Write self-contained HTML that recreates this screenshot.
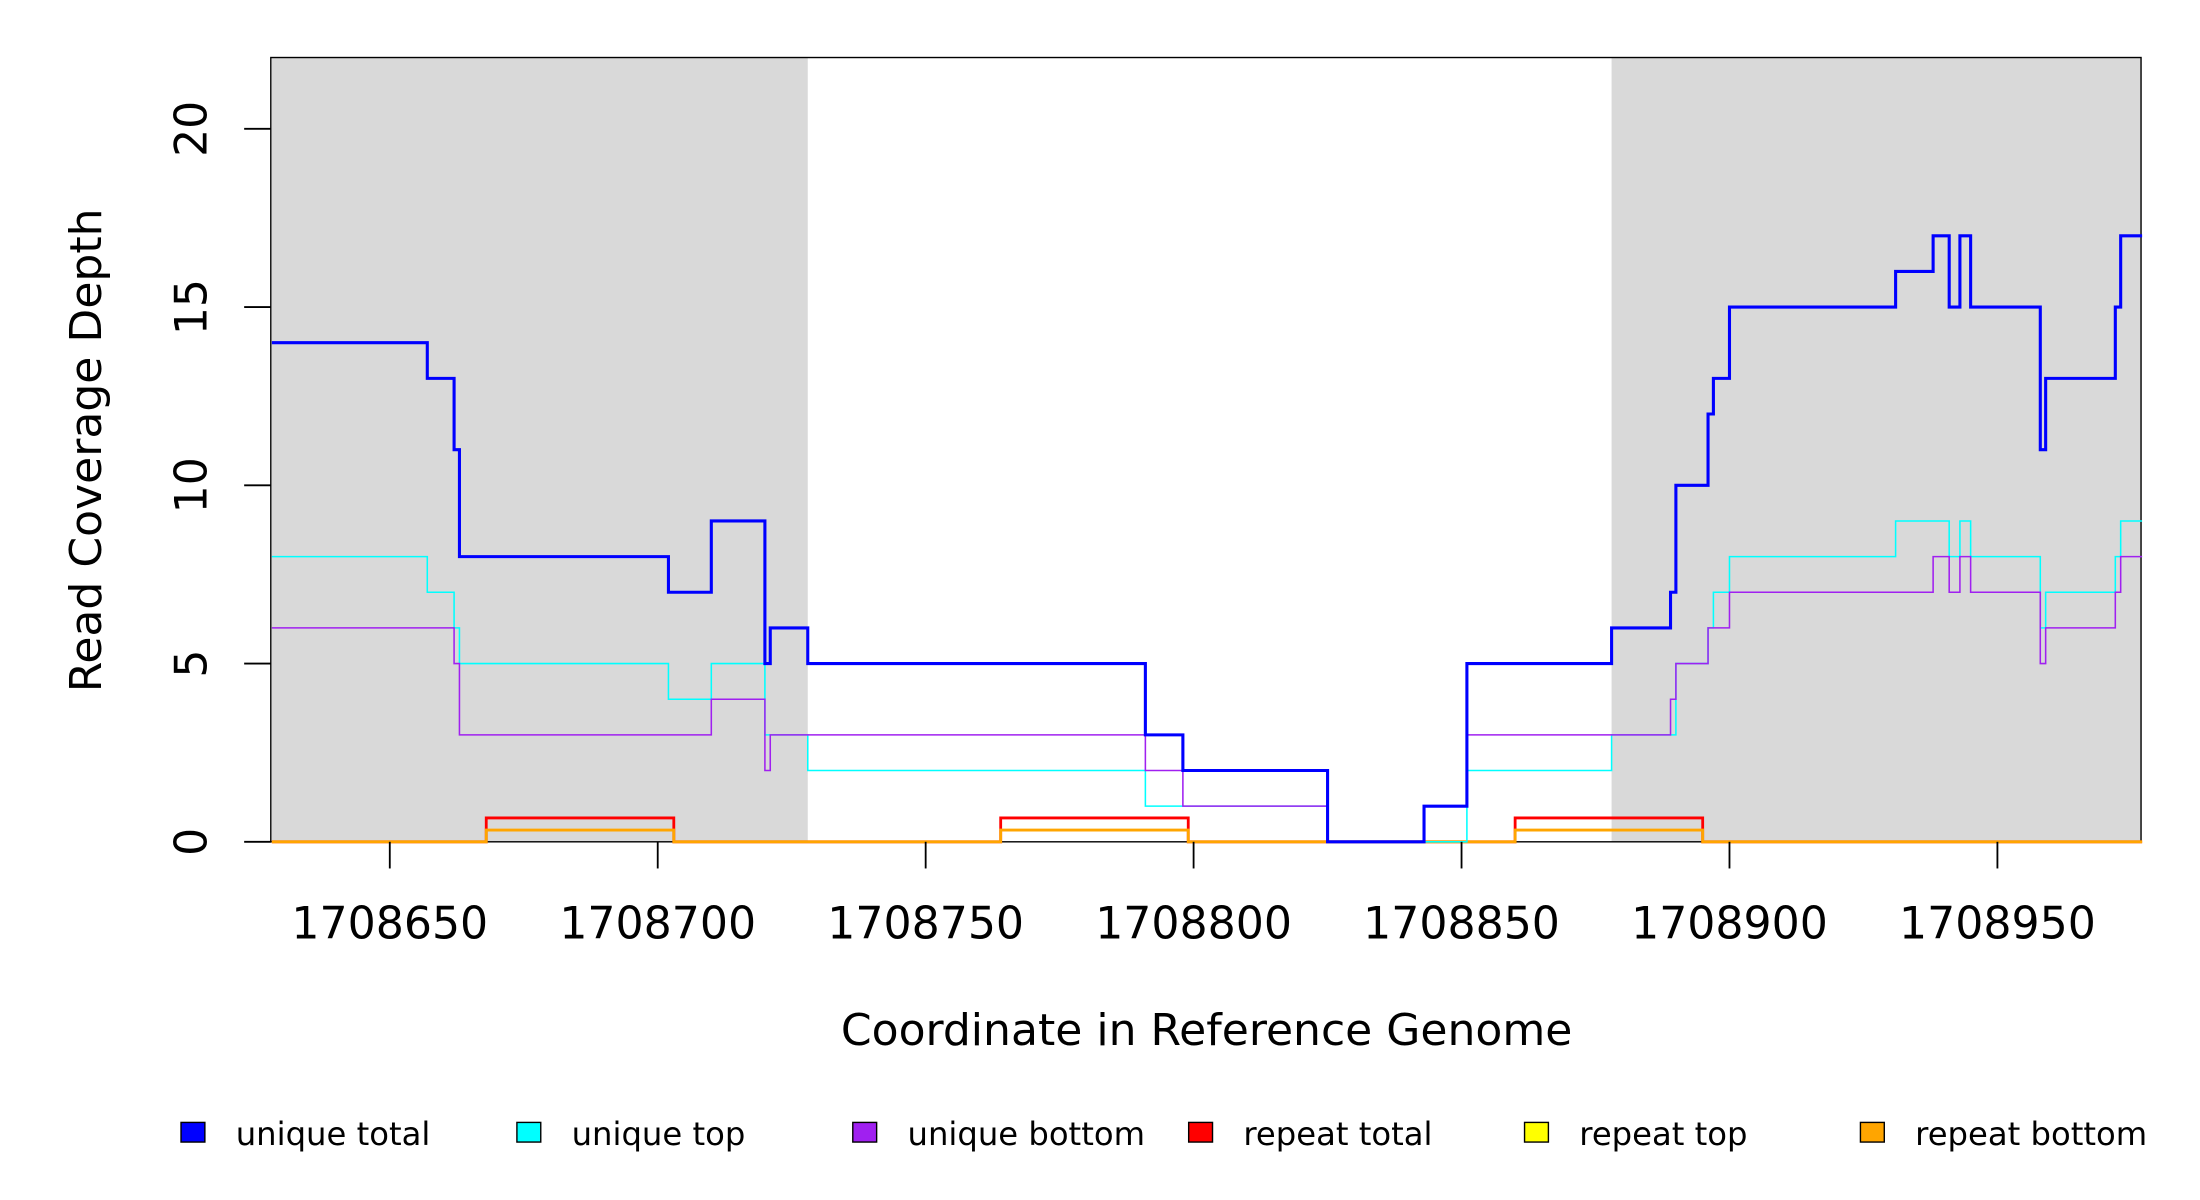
<!DOCTYPE html>
<html><head><meta charset="utf-8"><style>
html,body{margin:0;padding:0;background:#fff;}
svg{display:block;}
text{font-family:"DejaVu Sans","Liberation Sans",sans-serif;fill:#000;}
</style></head><body>
<svg id="chart" width="2200" height="1200" viewBox="0 0 1568 855.3" xmlns="http://www.w3.org/2000/svg">
<g id="bg"></g>
<rect x="193" y="41" width="1333" height="559" fill="none" stroke="#000" stroke-width="1"/>
<g id="series"></g>
<g id="axes"></g>
<text x="860" y="745" font-size="31.4" text-anchor="middle">Coordinate in Reference Genome</text>
<text transform="translate(72,321) rotate(-90)" font-size="31.4" text-anchor="middle">Read Coverage Depth</text>
<g id="legend"></g>
</svg>
<script>
const xTicks = [1708650,1708700,1708750,1708800,1708850,1708900,1708950];
const yTicks = [0,5,10,15,20];
const shadedRegions = [[1708628,1708728],[1708878,1708977]];
// step series: start positions and values (last x is the end)
const uniqueTotalX = [1708628,1708657,1708662,1708663,1708702,1708710,1708720,1708721,1708728,1708791,1708798,1708825,1708843,1708851,1708878,1708889,1708890,1708896,1708897,1708900,1708931,1708938,1708941,1708943,1708945,1708958,1708959,1708972,1708973,1708977];
const uniqueTotalY = [14,13,11,8,7,9,5,6,5,3,2,0,1,5,6,7,10,12,13,15,16,17,15,17,15,11,13,15,17];
const uniqueTopX = [1708628,1708657,1708662,1708663,1708702,1708710,1708720,1708728,1708791,1708825,1708851,1708878,1708890,1708896,1708897,1708900,1708931,1708941,1708943,1708945,1708958,1708959,1708972,1708973,1708977];
const uniqueTopY = [8,7,6,5,4,5,3,2,1,0,2,3,5,6,7,8,9,8,9,8,6,7,8,9];
const uniqueBottomX = [1708628,1708662,1708663,1708710,1708720,1708721,1708791,1708798,1708825,1708843,1708851,1708889,1708890,1708896,1708900,1708938,1708941,1708943,1708945,1708958,1708959,1708972,1708973,1708977];
const uniqueBottomY = [6,5,3,4,2,3,2,1,0,1,3,4,5,6,7,8,7,8,7,5,6,7,8];
const repeatTotalX = [1708628,1708668,1708703,1708764,1708799,1708860,1708895,1708977];
const repeatTotalY = [0,0.67,0,0.67,0,0.67,0];
const repeatTopX = [1708628,1708668,1708703,1708764,1708799,1708860,1708895,1708977];
const repeatTopY = [0,0.33,0,0.33,0,0.33,0];
const repeatBottomX = [1708628,1708668,1708703,1708764,1708799,1708860,1708895,1708977];
const repeatBottomY = [0,0.33,0,0.33,0,0.33,0];
const legendLabels = ["unique total","unique top","unique bottom","repeat total","repeat top","repeat bottom"];
const legendColors = ["#0000ff","#00ffff","#a020f0","#ff0000","#ffff00","#ffa500"];

const NS="http://www.w3.org/2000/svg";
const X0=193,X1=1526,Y0=600,Y1=41,XMIN=1708627.8,XMAX=1708976.8,YMIN=0,YMAX=22;
function sx(v){return X0+(v-XMIN)/(XMAX-XMIN)*(X1-X0);}
function sy(v){return Y0-(v-YMIN)/(YMAX-YMIN)*(Y0-Y1);}
function mk(tag,attrs,parent){const e=document.createElementNS(NS,tag);for(const k in attrs)e.setAttribute(k,attrs[k]);parent.appendChild(e);return e;}

const bg=document.getElementById('bg');
shadedRegions.forEach((r,i)=>{
  const e=mk('rect',{x:sx(Math.max(r[0],XMIN)),y:Y1,width:sx(Math.min(r[1],XMAX))-sx(Math.max(r[0],XMIN)),height:Y0-Y1,fill:'#d9d9d9'},bg);
  
  
});

const ser=document.getElementById('series');
function stepPath(xs,ys){
  let d='M'+sx(xs[0])+','+sy(ys[0]);
  for(let i=0;i<ys.length;i++){
    d+=' L'+sx(xs[i+1])+','+sy(ys[i]);
    if(i+1<ys.length) d+=' L'+sx(xs[i+1])+','+sy(ys[i+1]);
  }
  return d;
}
const seriesDefs=[
  [repeatTotalX,repeatTotalY,'#ff0000',2,'repeat-total-line'],
  [repeatTopX,repeatTopY,'#ffff00',1,'repeat-top-line'],
  [repeatBottomX,repeatBottomY,'#ffa500',2,'repeat-bottom-line'],
  [uniqueTopX,uniqueTopY,'#00ffff',1.1,'unique-top-line'],
  [uniqueBottomX,uniqueBottomY,'#a020f0',1.1,'unique-bottom-line'],
  [uniqueTotalX,uniqueTotalY,'#0000ff',2.2,'unique-total-line']
];
seriesDefs.forEach(s=>{
  const p=mk('path',{d:stepPath(s[0],s[1]),fill:'none',stroke:s[2],'stroke-width':s[3],'stroke-linejoin':'miter'},ser);
  
  
});

const ax=document.getElementById('axes');
xTicks.forEach(t=>{
  const l=mk('line',{x1:sx(t),x2:sx(t),y1:Y0,y2:Y0+19,stroke:'#000','stroke-width':1.3},ax);
  
  
  const tx=mk('text',{x:sx(t),y:669,'font-size':31.5,'text-anchor':'middle'},ax);
  tx.textContent=t;
  
  
});
yTicks.forEach(t=>{
  const l=mk('line',{x1:X0-19,x2:X0,y1:sy(t),y2:sy(t),stroke:'#000','stroke-width':1.3},ax);
  
  
  const tx=mk('text',{transform:'translate(147,'+sy(t)+') rotate(-90)','font-size':31.5,'text-anchor':'middle'},ax);
  tx.textContent=t;
  
  
});

const lg=document.getElementById('legend');
legendLabels.forEach((lab,i)=>{
  const x=129+i*239.4;
  const r=mk('rect',{x:x,y:800,width:17,height:14,fill:legendColors[i],stroke:'#000','stroke-width':1},lg);
  
  
  const t=mk('text',{x:x+39,y:816,'font-size':23},lg);
  t.textContent=lab;
  
  
});
</script>
</body></html>
